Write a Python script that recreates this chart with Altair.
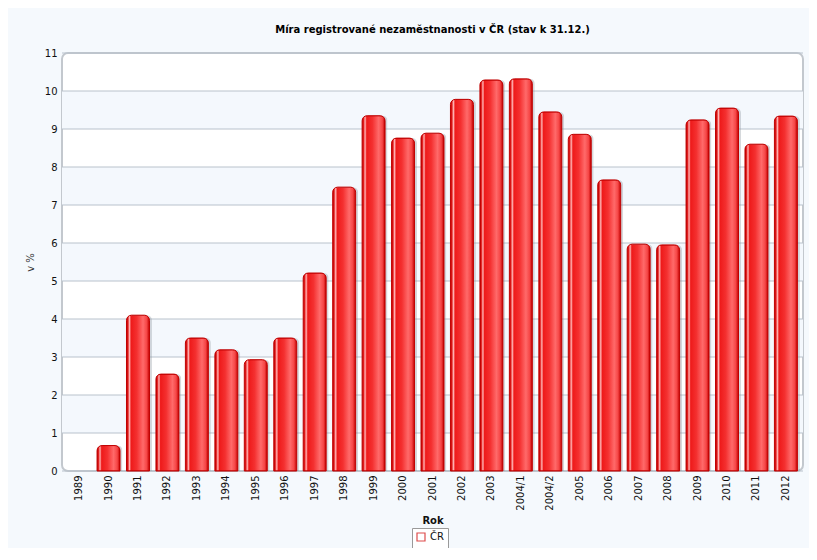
import altair as alt
import pandas as pd

years = ["1989", "1990", "1991", "1992", "1993", "1994", "1995", "1996", "1997",
         "1998", "1999", "2000", "2001", "2002", "2003", "2004/1", "2004/2",
         "2005", "2006", "2007", "2008", "2009", "2010", "2011", "2012"]
values = [0.0, 0.67, 4.10, 2.55, 3.50, 3.19, 2.93, 3.50, 5.21, 7.47, 9.35, 8.76,
          8.89, 9.78, 10.29, 10.32, 9.45, 8.86, 7.66, 5.97, 5.95, 9.24, 9.55,
          8.60, 9.34]
series = ["ČR"] * len(years)

band_lo = [1, 3, 5, 7, 9]
band_hi = [2, 4, 6, 8, 10]
grid_vals = list(range(0, 12))

FONT = "DejaVu Sans"

df = pd.DataFrame({"rok": years, "v": values, "s": series})
bands = pd.DataFrame({"lo": band_lo, "hi": band_hi})
grid = pd.DataFrame({"g": grid_vals})

yscale = alt.Scale(domain=[0, 11], nice=False, zero=True)
xscale = alt.Scale(domain=years, paddingInner=0.22, paddingOuter=0.19)

yaxis = alt.Axis(title="v %", values=grid_vals, grid=False,
                 ticks=False, domain=False, labelPadding=5, labelFontSize=10,
                 labelOverlap=False, labelColor="#111", labelFont=FONT,
                 titleFont=FONT, titleFontSize=10, titleFontWeight="normal",
                 titleColor="#333", titlePadding=9)
xaxis = alt.Axis(title="Rok", labelAngle=270, labelPadding=4, ticks=False,
                 domain=False, labelFontSize=10, labelColor="#111",
                 labelOverlap=False, labelFont=FONT, titleFont=FONT,
                 titleFontSize=10, titleFontWeight="bold", titleColor="#111",
                 titlePadding=5)

band_layer = alt.Chart(bands).mark_rect(color="#f4f8fd").encode(
    y=alt.Y("lo:Q", scale=yscale, axis=yaxis),
    y2="hi:Q",
)

grid_layer = alt.Chart(grid).mark_rule(color="#b9c2cc", strokeWidth=1).encode(
    y=alt.Y("g:Q", scale=yscale, axis=yaxis)
)

grad = alt.Gradient(
    gradient="linear",
    x1=0, x2=1, y1=0, y2=0,
    stops=[
        alt.GradientStop(color="#b80000", offset=0.0),
        alt.GradientStop(color="#e01818", offset=0.06),
        alt.GradientStop(color="#ffb4b4", offset=0.13),
        alt.GradientStop(color="#ee1a1a", offset=0.2),
        alt.GradientStop(color="#f43030", offset=0.45),
        alt.GradientStop(color="#ff6a6a", offset=0.72),
        alt.GradientStop(color="#f64646", offset=0.88),
        alt.GradientStop(color="#c00000", offset=1.0),
    ],
)

base = alt.Chart(df).transform_filter("datum.v > 0")

shadow = base.mark_bar(
    color="#8a939c", opacity=0.35, xOffset=2.5,
    cornerRadiusTopLeft=5, cornerRadiusTopRight=5,
).encode(
    x=alt.X("rok:N", scale=xscale, sort=years, axis=xaxis),
    y=alt.Y("v:Q", scale=yscale, axis=yaxis),
)

bars = base.mark_bar(
    fill=grad, stroke="#c00000", strokeWidth=1,
    cornerRadiusTopLeft=5, cornerRadiusTopRight=5,
).encode(
    x=alt.X("rok:N", scale=xscale, sort=years, axis=xaxis),
    y=alt.Y("v:Q", scale=yscale, axis=yaxis),
)

# legend-only layer (no points survive the filter; the legend comes from the scale domain)
legend_layer = alt.Chart(df).transform_filter("datum.v < 0").mark_point(
    shape="square", filled=False, strokeWidth=1.2,
).encode(
    x=alt.X("rok:N", scale=xscale, sort=years, axis=xaxis),
    y=alt.Y("v:Q", scale=yscale, axis=yaxis),
    stroke=alt.Stroke("s:N", scale=alt.Scale(domain=["ČR"], range=["#d00000"]),
                      legend=alt.Legend(title=None, orient="none", legendX=350,
                                        legendY=475, fillColor="white",
                                        strokeColor="#9a9a9a", padding=4,
                                        symbolType="square", symbolSize=64,
                                        symbolStrokeWidth=1.2,
                                        labelFont=FONT, labelFontSize=10,
                                        labelColor="#111")),
)

chart = alt.layer(band_layer, grid_layer, shadow, bars, legend_layer).properties(
    width=741,
    height=418,
    padding={"left": 54, "top": 45, "right": 6, "bottom": 77},
    autosize=alt.AutoSizeParams(type="none"),
    background="#f5f9fd",
    title=alt.TitleParams(
        "Míra registrované nezaměstnanosti v ČR (stav k 31.12.)",
        font=FONT, fontSize=10, fontWeight="bold", color="#000",
        anchor="middle", offset=13,
    ),
).configure_view(
    fill="white", stroke="#c3c8ce", strokeWidth=2, cornerRadius=6,
)

chart.save("out.html", embed_options={"renderer": "svg", "actions": False})
